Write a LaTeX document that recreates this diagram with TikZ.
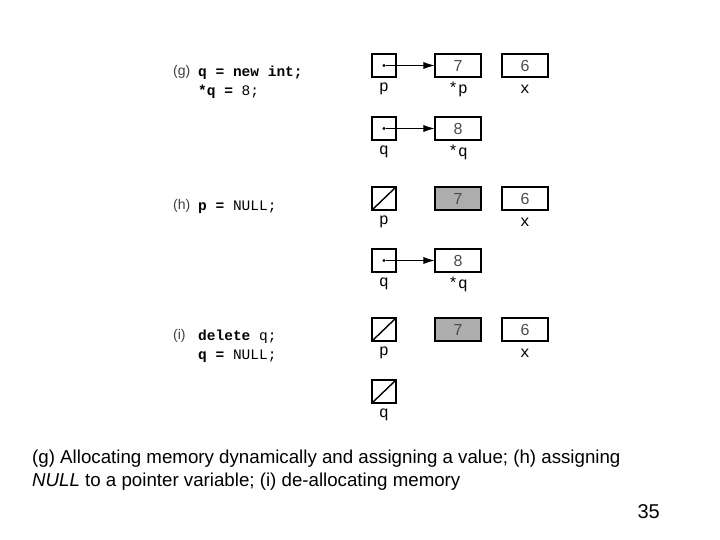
\documentclass[tikz,border=0pt]{standalone}
\usepackage{fontspec}
\setmainfont{Liberation Sans}
\newfontfamily\cour{Liberation Mono}
\begin{document}
\begin{tikzpicture}[x=1pt,y=-1pt,
 ptr/.style={draw,line width=1.1pt,minimum width=24pt,minimum height=23pt,inner sep=0pt},
 val/.style={draw,line width=1.1pt,minimum width=46pt,minimum height=23pt,inner sep=0pt,font=\fontsize{16}{16}\selectfont\color{black!70}},
 gval/.style={val,fill=black!32},
 lab/.style={font=\cour\fontsize{16}{16}\selectfont},
 code/.style={font=\cour\fontsize{14.5}{16}\selectfont,anchor=west,inner sep=0pt},
 tag/.style={font=\fontsize{14}{16}\selectfont\color{black!75},anchor=west,inner sep=0pt},
 arr/.style={-{Latex[length=11pt,width=7pt]},line width=0.6pt},
 dot/.style={circle,fill,inner sep=1.2pt}]
\usetikzlibrary{arrows.meta}
\useasboundingbox (0,0) rectangle (720,540);
% (g)
\node[tag] (tg) at (173,72) {(g)};
\node[code] (cg1) at (198,73) {\textbf{q = new int;}};
\node[code] (cg2) at (198,92) {\textbf{*q =} 8;};
\node[ptr] (gp) at (384,65.5) {}; \node[dot] (gpd) at (gp.center) {};
\node[val] (gv7) at (458,65.5) {7};
\node[val] (gx) at (525,65.5) {6};
\node[lab] at (384,89) {p}; \node[lab] at (458,89) {*p}; \node[lab] at (525,89) {x};
\draw[arr] (gpd) -- (gv7.west);
\node[ptr] (gq) at (384,128.5) {}; \node[dot] (gqd) at (gq.center) {};
\node[val] (gv8) at (458,128.5) {8};
\node[lab] at (384,152) {q}; \node[lab] at (458,152) {*q};
\draw[arr] (gqd) -- (gv8.west);
% (h)
\node[tag] (th) at (173,206) {(h)};
\node[code] (ch) at (198,207) {\textbf{p =} NULL;};
\node[ptr] (hp) at (384,198.5) {};
\draw[line width=1.4pt] (hp.south west) -- (hp.north east);
\node[gval] (hv7) at (458,198.5) {7};
\node[val] (hx) at (525,198.5) {6};
\node[lab] at (384,222) {p}; \node[lab] at (525,222) {x};
\node[ptr] (hq) at (384,260.5) {}; \node[dot] (hqd) at (hq.center) {};
\node[val] (hv8) at (458,260.5) {8};
\node[lab] at (384,284) {q}; \node[lab] at (458,284) {*q};
\draw[arr] (hqd) -- (hv8.west);
% (i)
\node[tag] (ti) at (173,336) {(i)};
\node[code] (ci1) at (198,337) {\textbf{delete} q;};
\node[code] (ci2) at (198,356) {\textbf{q =} NULL;};
\node[ptr] (ip) at (384,329.5) {};
\draw[line width=1.4pt] (ip.south west) -- (ip.north east);
\node[gval] (iv7) at (458,329.5) {7};
\node[val] (ix) at (525,329.5) {6};
\node[lab] at (384,353) {p}; \node[lab] at (525,353) {x};
\node[ptr] (iq) at (384,391.5) {};
\draw[line width=1.4pt] (iq.south west) -- (iq.north east);
\node[lab] at (384,415) {q};
% caption
\node[anchor=west,inner sep=0pt,font=\fontsize{18.7}{23}\selectfont,align=left] (cap) at (32,470)
 {(g) Allocating memory dynamically and assigning a value; (h) assigning\\\textit{NULL} to a pointer variable; (i) de-allocating memory};
\node[anchor=east,inner sep=0pt,font=\fontsize{20}{20}\selectfont] (pg) at (660,512) {35};
\end{tikzpicture}
\end{document}
